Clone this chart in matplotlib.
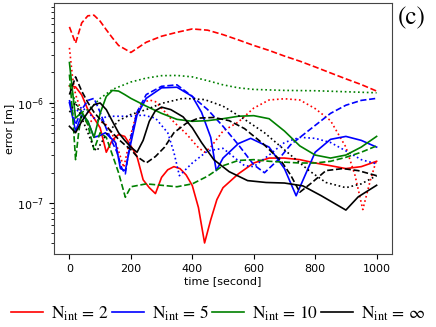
import numpy as np
import matplotlib
matplotlib.use('Agg')
import matplotlib.pyplot as plt

#Data (time in seconds, error in metres)

# N_int = 2
t_red_solid = [0, 20, 40, 60, 80, 100, 120, 140, 160, 180, 200, 220, 240, 260, 280, 300, 320, 340, 360, 380,
               400, 420, 440, 460, 480, 500, 550, 600, 650, 700, 750, 800, 850, 900, 950, 1000]
red_solid = [1.46e-6, 1.43e-6, 1.19e-6, 8.5e-7, 7.0e-7, 5.6e-7, 3.2e-7, 4.25e-7, 4.8e-7, 4.6e-7, 3.7e-7, 2.9e-7,
             1.7e-7, 1.42e-7, 1.24e-7, 1.8e-7, 2.14e-7, 2.3e-7, 2.2e-7, 1.9e-7,
             1.49e-7, 9e-8, 4.0e-8, 6.8e-8, 1.08e-7, 1.42e-7, 1.95e-7, 2.5e-7, 2.8e-7, 2.8e-7, 2.7e-7, 2.5e-7,
             2.35e-7, 2.2e-7, 2.3e-7, 2.6e-7]
t_red_dash = [0, 20, 40, 60, 80, 100, 120, 140, 160, 200, 250, 300, 350, 400, 450, 500, 550, 600, 650, 700,
              750, 800, 850, 900, 950, 1000]
red_dash = [5.66e-6, 3.9e-6, 6.2e-6, 7.3e-6, 7.4e-6, 6.45e-6, 5.3e-6, 4.4e-6, 3.7e-6, 3.15e-6, 3.98e-6, 4.57e-6,
            5.0e-6, 5.4e-6, 5.25e-6, 4.74e-6, 4.2e-6, 3.7e-6, 3.3e-6, 2.9e-6,
            2.58e-6, 2.26e-6, 1.97e-6, 1.72e-6, 1.51e-6, 1.3e-6]
t_red_dot = [0, 10, 20, 40, 60, 80, 100, 120, 140, 160, 177, 200, 220, 240, 260, 280, 300, 340, 380, 420,
             440, 460, 500, 550, 600, 650, 700, 750, 800, 850, 900, 930, 955, 980, 1000]
red_dot = [3.5e-6, 1.8e-6, 1.2e-6, 8e-7, 6e-7, 7e-7, 6.5e-7, 6e-7, 4.8e-7, 3.3e-7, 2.26e-7, 4.8e-7, 8.1e-7,
           9.9e-7, 1.06e-6, 1.02e-6, 8.8e-7, 6.4e-7, 4.9e-7, 3.55e-7,
           3.2e-7, 3.6e-7, 5.2e-7, 6.4e-7, 8.8e-7, 1.06e-6, 1.09e-6, 1.06e-6, 8.7e-7, 6.6e-7, 3.6e-7, 1.87e-7,
           8.6e-8, 1.7e-7, 2.7e-7]

# N_int = 5
t_blue_solid = [0, 20, 40, 60, 80, 100, 117, 150, 166, 182, 198, 220, 250, 300, 350, 400, 430, 460, 478, 500,
                550, 590, 650, 700, 738, 800, 850, 900, 950, 1000]
blue_solid = [1.0e-6, 5.2e-7, 7.5e-7, 6.5e-7, 4.5e-7, 4.7e-7, 5.0e-7, 4.0e-7, 2.2e-7, 2.1e-7, 3.7e-7, 7.5e-7,
              1.1e-6, 1.4e-6, 1.42e-6, 1.15e-6, 8.0e-7, 4.5e-7, 2.1e-7, 2.8e-7,
              3.9e-7, 4.4e-7, 3.6e-7, 2.2e-7, 1.18e-7, 3.2e-7, 4.3e-7, 4.6e-7, 4.2e-7, 3.6e-7]
t_blue_dash = [0, 20, 40, 60, 80, 100, 120, 140, 155, 171, 182, 200, 220, 250, 300, 350, 400, 450, 500, 550,
               600, 635, 680, 720, 790, 850, 900, 950, 1000]
blue_dash = [1.06e-6, 6e-7, 8.5e-7, 1.05e-6, 1.1e-6, 8e-7, 5.5e-7, 4e-7, 3.2e-7, 2.2e-7, 1.95e-7, 4.5e-7, 8e-7,
             1.2e-6, 1.45e-6, 1.5e-6, 1.15e-6, 8.5e-7, 5.8e-7, 3.8e-7,
             2.4e-7, 2.0e-7, 2.7e-7, 3.8e-7, 5.6e-7, 7.8e-7, 9.4e-7, 1.05e-6, 1.1e-6]
t_blue_dot = [0, 20, 40, 60, 80, 100, 120, 160, 200, 240, 280, 320, 340, 358, 400, 450, 500, 570, 600, 650,
              700, 750, 800, 850, 900, 950, 1000]
blue_dot = [1.0e-6, 8e-7, 9e-7, 8e-7, 7e-7, 6.5e-7, 7.3e-7, 7.3e-7, 7.3e-7, 7.5e-7, 7e-7, 5e-7, 3.2e-7, 1.87e-7,
            2.5e-7, 3.3e-7, 3.5e-7, 2.35e-7, 2.3e-7, 3.0e-7,
            4.0e-7, 4.5e-7, 4.4e-7, 4.0e-7, 3.3e-7, 2.7e-7, 2.45e-7]

# N_int = 10
t_green_solid = [0, 10, 20, 40, 60, 80, 100, 120, 140, 160, 180, 200, 250, 300, 350, 400, 450, 500, 550, 600,
                 650, 700, 750, 800, 850, 900, 950, 1000]
green_solid = [2.5e-6, 1.3e-6, 7e-7, 8e-7, 6.5e-7, 4.5e-7, 7.8e-7, 1.15e-6, 1.32e-6, 1.3e-6, 1.2e-6, 1.1e-6,
               9.2e-7, 7.8e-7, 6.8e-7, 6.5e-7, 6.6e-7, 6.9e-7, 7.3e-7, 7.4e-7,
               6.9e-7, 5.2e-7, 3.7e-7, 3.0e-7, 2.8e-7, 3.0e-7, 3.6e-7, 4.6e-7]
t_green_dash = [0, 10, 20, 30, 40, 60, 80, 100, 120, 140, 160, 182, 200, 250, 300, 350, 400, 450, 500, 550,
                600, 650, 700, 750, 800, 850, 900, 950, 1000]
green_dash = [1.9e-6, 8e-7, 2.7e-7, 5e-7, 8e-7, 6e-7, 3.4e-7, 5e-7, 4.5e-7, 3e-7, 2.0e-7, 1.14e-7, 1.45e-7,
              1.55e-7, 1.5e-7, 1.45e-7, 1.55e-7, 1.85e-7, 2.35e-7, 2.65e-7,
              2.7e-7, 2.6e-7, 2.55e-7, 2.5e-7, 2.5e-7, 2.6e-7, 2.85e-7, 3.2e-7, 3.7e-7]
t_green_dot = [0, 20, 40, 60, 80, 100, 140, 200, 250, 300, 350, 400, 450, 500, 550, 600, 700, 800, 900, 1000]
green_dot = [1.5e-6, 1.0e-6, 8e-7, 8.5e-7, 9.5e-7, 1.1e-6, 1.35e-6, 1.6e-6, 1.75e-6, 1.85e-6, 1.86e-6, 1.8e-6,
             1.65e-6, 1.5e-6, 1.4e-6, 1.35e-6, 1.32e-6, 1.31e-6, 1.28e-6, 1.25e-6]

# N_int = infinity
t_black_solid = [0, 20, 40, 60, 80, 100, 120, 140, 160, 180, 200, 220, 240, 260, 280, 300, 330, 370, 400, 430,
                 470, 520, 580, 640, 700, 760, 820, 900, 940, 1000]
black_solid = [5.8e-7, 5.0e-7, 6.5e-7, 8e-7, 9.5e-7, 9.9e-7, 8.5e-7, 6.5e-7, 5e-7, 4.2e-7, 3.6e-7, 3.2e-7, 4.2e-7,
               6.5e-7, 8.3e-7, 9.0e-7, 8.5e-7, 7.2e-7, 5.6e-7, 4.0e-7,
               2.7e-7, 2.05e-7, 1.67e-7, 1.6e-7, 1.58e-7, 1.48e-7, 1.18e-7, 8.5e-8, 1.15e-7, 1.5e-7]
t_black_dash = [0, 20, 40, 60, 80, 100, 120, 140, 160, 180, 200, 220, 250, 280, 310, 340, 380, 420, 470, 520,
                570, 630, 690, 720, 750, 790, 835, 890, 940, 1000]
black_dash = [1.2e-6, 1.8e-6, 1.3e-6, 1.0e-6, 8e-7, 6.8e-7, 5.8e-7, 5e-7, 4.3e-7, 3.8e-7, 3.4e-7, 2.9e-7, 2.5e-7,
              2.9e-7, 3.6e-7, 5e-7, 6.2e-7, 7e-7, 7.1e-7, 6.6e-7,
              5.5e-7, 3.9e-7, 2.6e-7, 1.9e-7, 1.28e-7, 1.6e-7, 2.1e-7, 2.2e-7, 2.1e-7, 1.87e-7]
t_black_dot = [0, 20, 40, 60, 80, 90, 100, 120, 160, 200, 250, 300, 370, 440, 500, 570, 635, 720, 780, 835,
               900, 950, 1000]
black_dot = [8e-7, 1.0e-6, 7e-7, 5e-7, 3.5e-7, 3.3e-7, 3.8e-7, 4.8e-7, 6.6e-7, 7.6e-7, 8.5e-7, 9.8e-7, 1.1e-6,
             1.07e-6, 9.2e-7, 6.8e-7, 5e-7, 3e-7, 2.1e-7, 1.6e-7,
             1.42e-7, 1.55e-7, 1.87e-7]

labels = [r'N$_{\mathrm{int}}$ = 2', r'N$_{\mathrm{int}}$ = 5',
          r'N$_{\mathrm{int}}$ = 10', r'N$_{\mathrm{int}}$ = $\infty$']

#Plotting

plt.rcParams['mathtext.fontset'] = 'stix'

fig = plt.figure(figsize=(4.36, 3.27), dpi=100)
ax = fig.add_axes([0.124, 0.223, 0.775, 0.768])

lw = 1.2
series = [
    ('red', t_red_solid, red_solid, t_red_dash, red_dash, t_red_dot, red_dot),
    ('blue', t_blue_solid, blue_solid, t_blue_dash, blue_dash, t_blue_dot, blue_dot),
    ('green', t_green_solid, green_solid, t_green_dash, green_dash, t_green_dot, green_dot),
    ('black', t_black_solid, black_solid, t_black_dash, black_dash, t_black_dot, black_dot),
]
handles = []
for col, ts, vs, td, vd, tdot, vdot in series:
    h, = ax.plot(ts, vs, '-', color=col, lw=lw)
    ax.plot(td, vd, '--', color=col, lw=lw)
    ax.plot(tdot, vdot, ':', color=col, lw=lw)
    handles.append(h)

ax.set_yscale('log')
ax.set_xlim(-50, 1050)
ax.set_ylim(3.1e-8, 9.8e-6)
ax.set_xticks([0, 200, 400, 600, 800, 1000])
ax.tick_params(labelsize=8)
ax.set_xlabel('time [second]', fontsize=8, labelpad=2)
ax.set_ylabel('error [m]', fontsize=8, labelpad=2)
for s in ax.spines.values():
    s.set_color('#444444')

fig.text(0.913, 0.943, '(c)', fontsize=18, family='STIXGeneral', ha='left', va='center')

fig.legend(handles, labels, loc='center', bbox_to_anchor=(0.5, 0.043), ncol=4, frameon=False,
           prop={'family': 'STIXGeneral', 'size': 12.5},
           handlelength=1.85, handletextpad=0.45, columnspacing=0.2)

plt.savefig('out.png', dpi=100)
